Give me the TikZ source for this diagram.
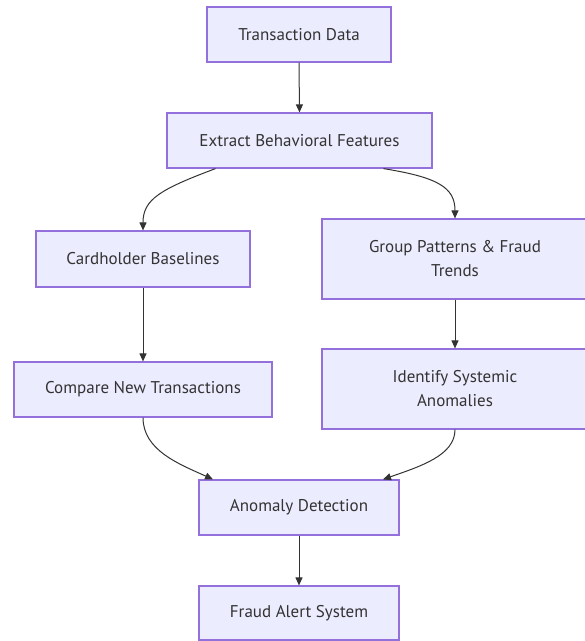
\documentclass[tikz,border=0pt]{standalone}
\usepackage{fontspec}
\setmainfont{PT Sans}
\usetikzlibrary{arrows.meta}
\definecolor{boxfill}{HTML}{ECECFF}
\definecolor{boxline}{HTML}{9370DB}
\definecolor{ink}{HTML}{333333}
\begin{document}
\begin{tikzpicture}[x=1pt,y=-1pt,
  box/.style={draw=boxline, fill=boxfill, line width=1.2pt, text=ink,
    font=\fontsize{17}{24}\selectfont, align=center, inner sep=0pt},
  link/.style={draw=ink, line width=1pt, -{Triangle[length=8pt,width=7pt]}}]
\useasboundingbox (0,0) rectangle (585,641);
\fill[white] (0,0) rectangle (585,641);

\node[box, minimum width=184pt, minimum height=55pt] (tx) at (299,34.5) {Transaction Data};
\node[box, minimum width=265pt, minimum height=55pt] (feat) at (299.5,140.5) {Extract Behavioral Features};
\node[box, minimum width=214pt, minimum height=56pt] (base) at (143,259) {Cardholder Baselines};
\node[box, minimum width=266pt, minimum height=80pt] (group) at (455,259) {Group Patterns \& Fraud\\Trends};
\node[box, minimum width=258pt, minimum height=55pt] (cmp) at (143,389.5) {Compare New Transactions};
\node[box, minimum width=266pt, minimum height=80pt] (sys) at (455,389) {Identify Systemic\\Anomalies};
\node[box, minimum width=200pt, minimum height=55pt] (anom) at (299,507.5) {Anomaly Detection};
\node[box, minimum width=200pt, minimum height=54pt] (alert) at (299,613) {Fraud Alert System};

\draw[link] (tx.south) -- (feat.north);
\draw[link] ([xshift=-84pt]feat.south) .. controls ([xshift=17pt,yshift=41pt]base.north) and ([yshift=31pt]base.north) .. (base.north);
\draw[link] ([xshift=84pt]feat.south) .. controls ([xshift=-17pt,yshift=41pt]group.north) and ([yshift=31pt]group.north) .. (group.north);
\draw[link] (base.south) -- (cmp.north);
\draw[link] (group.south) -- (sys.north);
\draw[link] (cmp.south) .. controls ([yshift=-33pt]cmp.south) and ([xshift=-119pt,yshift=15pt]anom.north) .. ([xshift=-86pt]anom.north);
\draw[link] (sys.south) .. controls ([yshift=-26pt]sys.south) and ([xshift=121pt,yshift=13pt]anom.north) .. ([xshift=84pt]anom.north);
\draw[link] (anom.south) -- (alert.north);
\end{tikzpicture}
\end{document}
